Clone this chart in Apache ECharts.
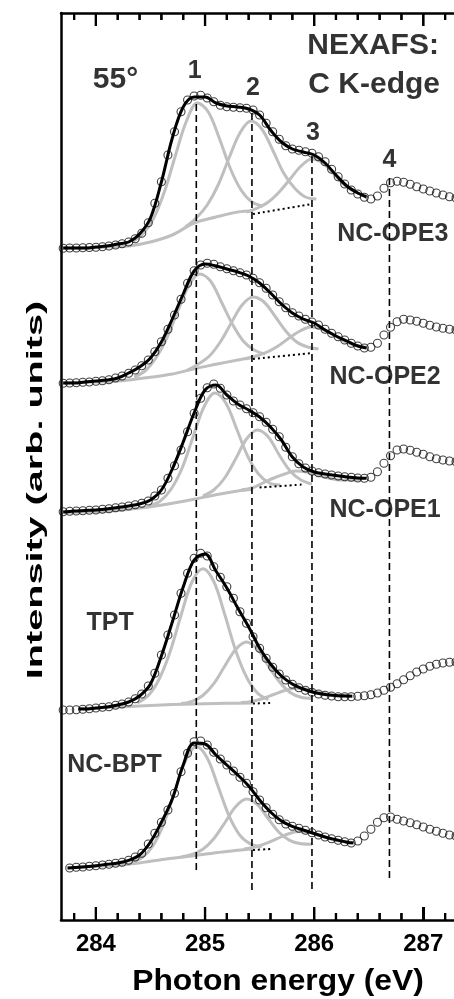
<!DOCTYPE html>
<html>
<head>
<meta charset="utf-8">
<title>NEXAFS C K-edge</title>
<script src="https://cdn.jsdelivr.net/npm/echarts@6/dist/echarts.min.js"></script>
<style>
  html, body { margin: 0; padding: 0; background: #fff; }
  #main { width: 454px; height: 999px; }
</style>
</head>
<body>
<div id="main"></div>
<script>
// photon energy of the measured points (eV)
var energy = [
  283.70, 283.76, 283.82, 283.88, 283.94, 284.00, 284.06, 284.12, 284.18, 284.24,
  284.30, 284.36, 284.42, 284.48, 284.54, 284.60, 284.66, 284.72, 284.78, 284.84,
  284.90, 284.96, 285.02, 285.08, 285.14, 285.20, 285.26, 285.32, 285.38, 285.44,
  285.50, 285.56, 285.62, 285.68, 285.74, 285.80, 285.86, 285.92, 285.98, 286.04,
  286.10, 286.16, 286.22, 286.28, 286.34, 286.40, 286.46, 286.52, 286.58, 286.64,
  286.70, 286.76, 286.82, 286.88, 286.94, 287.00, 287.06, 287.12, 287.18, 287.24, 287.30
];

// measured intensities (arb. units, spectra already offset)
var ope3Data = [
  671.7, 672, 672, 672.3, 672.5, 672.7, 673.3, 674, 675, 676.3,
  678, 681.3, 686.7, 697.3, 716.7, 738.3, 765, 788.3, 808.3, 820,
  824, 824.7, 822, 818.3, 814.7, 813.3, 812.7, 812.3, 811.7, 810,
  805, 796.7, 788.3, 780.7, 774.3, 771, 769.7, 768.3, 766.7, 763.3,
  758.3, 750.7, 743.3, 736, 730, 726, 722.7, 721, 724, 731.7,
  737.3, 738.7, 737.7, 735.7, 733.3, 731, 729, 727, 725, 723.3, 722
];
var ope2Data = [
  536.7, 537, 537.3, 537.7, 538, 538.7, 539.3, 540.3, 542, 544,
  546.7, 550, 554.3, 560, 568.3, 578.3, 590.7, 605, 620.7, 636.7,
  649.3, 655, 656.7, 655.7, 653.3, 651.3, 649.3, 647.3, 645, 641.7,
  637.3, 631.7, 625, 618.3, 612.3, 607.3, 604, 600.7, 598, 595,
  590.7, 586.7, 583.3, 580, 576.7, 574, 572, 572.7, 576.7, 585,
  592.7, 598.3, 600.7, 600, 598.7, 596.7, 594.7, 593, 591.7, 590.7, 590
];
var ope1Data = [
  408.3, 408.7, 409, 409.3, 409.7, 410, 410.7, 411.3, 412.3, 413,
  414, 415.3, 416.7, 419, 424, 430, 441.7, 454.3, 470, 488.3,
  506.7, 521.7, 532.3, 536, 531.7, 525, 519, 515, 511.3, 507.3,
  503.3, 497.7, 490.7, 483.3, 472.7, 463.3, 456.3, 452, 449, 447.3,
  446, 445, 444, 443.3, 442.7, 442, 441.7, 442.7, 448.3, 456.7,
  464.3, 470, 471, 469.7, 467.7, 465.7, 463.3, 461.3, 460, 459, 458.3
];
var tptData = [
  210, 210, 210.3, 210.7, 211.3, 212, 212.7, 213.3, 214.7, 216,
  218, 221.3, 226, 234, 246.7, 265, 285, 305, 326.7, 346.7,
  361.7, 366.7, 364, 353.3, 342.7, 333.3, 321.7, 308.3, 296.7, 283.3,
  271.7, 261.7, 252.7, 246, 240, 235.7, 232.3, 229.7, 227.7, 226,
  224.7, 224, 223.3, 223.3, 223.3, 223.7, 224.3, 225.3, 227, 229.7,
  232.7, 236.3, 240.3, 244.3, 248, 251, 253.7, 255.7, 257, 257.7, 258
];
var bptData = [
  null, 52, 52.7, 53, 53.7, 54.3, 55, 55.7, 56.7, 57.7,
  59.7, 63, 66.7, 76, 86.7, 97.7, 110, 126.7, 148.3, 166.7,
  178.3, 179, 175, 167.7, 161, 155, 149, 142.7, 136.7, 128.3,
  120, 112.3, 105.7, 100.3, 96, 93.7, 91.7, 89.7, 87.3, 85,
  83, 81.3, 79.7, 78.3, 77, 79, 84, 90.7, 97.7, 102.3,
  103, 100.7, 99, 97.3, 95.3, 93, 90.7, 88.7, 86.7, 85, 84
];

// fit envelopes [eV, intensity]
var ope3Fit = [[283.7,672],[283.8,672],[283.9,672],[284.0,673],[284.1,674],[284.2,676],[284.3,678],[284.4,686],[284.5,702],[284.6,738],[284.7,782],[284.8,813],[284.9,823],[285.0,823],[285.1,817],[285.2,814],[285.3,813],[285.4,811],[285.5,805],[285.6,790],[285.7,778],[285.8,771],[285.9,768],[286.0,765],[286.1,757],[286.2,745],[286.3,734],[286.4,727],[286.48,723]];
var ope2Fit = [[283.7,537],[283.8,537],[283.9,538],[284.0,539],[284.1,540],[284.2,542],[284.3,547],[284.4,553],[284.5,562],[284.6,578],[284.7,601],[284.8,626],[284.9,649],[285.0,656],[285.1,654],[285.2,651],[285.3,648],[285.4,644],[285.5,637],[285.6,627],[285.7,616],[285.8,607],[285.9,601],[286.0,597],[286.1,590],[286.2,584],[286.3,579],[286.4,574],[286.48,572]];
var ope1Fit = [[283.7,408],[283.8,409],[283.9,409.5],[284.0,410],[284.1,411],[284.2,412.5],[284.3,414],[284.4,416],[284.5,420],[284.6,430],[284.7,451],[284.8,478],[284.9,507],[285.0,530],[285.1,535],[285.2,525],[285.3,516],[285.4,510],[285.5,503],[285.6,493],[285.7,480],[285.8,463],[285.9,453],[286.0,448],[286.1,446],[286.2,444.5],[286.3,443],[286.4,442],[286.48,441.7]];
var tptFit = [[283.84,211],[283.9,211],[284.0,212],[284.1,213],[284.2,215],[284.3,218],[284.4,224],[284.5,236],[284.6,264],[284.7,298],[284.8,333],[284.9,360],[285.0,366],[285.1,349],[285.2,332],[285.3,312],[285.4,293],[285.5,272],[285.6,256],[285.7,244],[285.8,236],[285.9,231],[286.0,227.5],[286.1,225.5],[286.2,224.5],[286.3,224],[286.35,223.7]];
var bptFit = [[283.74,52],[283.8,52.5],[283.9,53.3],[284.0,54.3],[284.1,55.7],[284.2,57],[284.3,59.7],[284.4,65],[284.5,78],[284.6,97.7],[284.7,121],[284.8,155],[284.9,177],[285.0,176],[285.1,165],[285.2,155],[285.3,145],[285.4,134],[285.5,120],[285.6,108],[285.7,99],[285.8,93.7],[285.9,90],[286.0,86.5],[286.1,83],[286.2,80.3],[286.3,77.8],[286.36,77]];

// step-edge backgrounds and their dotted continuation
var ope3Base = [[283.7,672],[283.9,672],[284.1,673],[284.3,674],[284.5,678],[284.7,685],[284.9,697],[285.1,703],[285.3,708],[285.44,709]];
var ope2Base = [[283.7,537],[283.9,538],[284.1,538.3],[284.3,540],[284.5,542.7],[284.7,546],[284.9,551.3],[285.1,555.7],[285.3,560],[285.44,562.7]];
var ope1Base = [[283.7,407.3],[283.9,408],[284.1,408.7],[284.3,410.7],[284.5,413.3],[284.7,416.7],[284.9,420.7],[285.1,425.3],[285.3,429],[285.44,430.7]];
var tptBase = [[283.84,211.5],[284.0,212],[284.2,213],[284.4,214],[284.6,215],[284.8,215.7],[285.0,216.3],[285.2,216.7],[285.44,217]];
var bptBase = [[283.74,52],[283.9,53],[284.1,54.3],[284.3,55.7],[284.5,58.7],[284.7,61.7],[284.9,64.3],[285.1,67.3],[285.3,69.7],[285.44,71.3]];
var ope3Dots = [[285.44,706],[285.98,716]];
var ope2Dots = [[285.44,561],[285.98,567]];
var ope1Dots = [[285.5,432.5],[285.9,435.5]];
var tptDots = [[285.44,216.5],[285.62,217]];
var bptDots = [[285.44,70],[285.6,71]];

// fitted resonances (background included)
var ope3P1 = [[284.33,678],[284.43,686],[284.53,702],[284.63,729],[284.73,765],[284.83,799],[284.93,817],[285.03,808],[285.13,782],[285.23,752],[285.33,730],[285.43,718],[285.53,714]];
var ope3P2 = [[284.82,693],[284.92,702],[285.02,715],[285.12,735],[285.22,762],[285.32,787],[285.42,799],[285.52,791],[285.62,770],[285.72,747],[285.82,732],[285.92,723],[286.02,721]];
var ope3P3 = [[285.38,708],[285.48,712],[285.58,718],[285.68,728],[285.78,741],[285.88,754],[285.98,761],[286.08,757],[286.18,746],[286.28,735],[286.38,728],[286.48,724]];
var ope2P1 = [[284.35,543],[284.45,549],[284.55,562],[284.65,582],[284.75,609],[284.85,634],[284.95,646],[285.05,639],[285.15,618],[285.25,596],[285.35,579],[285.45,570],[285.55,566]];
var ope2P2 = [[284.84,550],[284.94,556],[285.04,564],[285.14,578],[285.24,597],[285.34,615],[285.44,623],[285.54,618],[285.64,604],[285.74,589],[285.84,578],[285.94,573],[286.04,571]];
var ope2P3 = [[285.37,561],[285.47,564],[285.57,568],[285.67,574],[285.77,582],[285.87,589],[285.97,593],[286.07,591],[286.17,586],[286.27,579],[286.37,575],[286.47,573]];
var ope1P1 = [[284.49,414],[284.59,419],[284.69,431],[284.79,452],[284.89,483],[284.99,513],[285.09,527],[285.19,517],[285.29,491],[285.39,464],[285.49,446],[285.59,437],[285.69,435]];
var ope1P2 = [[284.98,424],[285.08,430],[285.18,442],[285.28,461],[285.38,481],[285.48,490],[285.58,483],[285.68,465],[285.78,449],[285.88,440],[285.98,436]];
var ope1P3 = [[285.33,430],[285.43,432],[285.53,437],[285.63,442],[285.73,446],[285.83,449],[285.93,448],[286.03,445],[286.13,442],[286.23,440],[286.33,440],[286.43,440.5]];
var tptP1 = [[284.38,217],[284.48,224.5],[284.58,241],[284.68,268.3],[284.78,304.7],[284.88,338],[284.98,351.3],[285.08,338.5],[285.18,305.7],[285.28,269.8],[285.38,243],[285.48,227],[285.58,220.3]];
var tptP2 = [[284.78,216.4],[284.88,218.7],[284.98,224.5],[285.08,236.3],[285.18,253.7],[285.28,270.6],[285.38,278],[285.48,270.9],[285.58,254.3],[285.68,238.5],[285.78,227.5],[285.88,222.7],[285.98,221.5]];
var tptP3 = [[285.33,217.4],[285.43,218.6],[285.53,221.5],[285.63,225.5],[285.73,229.5],[285.83,231.7],[285.93,231],[286.03,228.4],[286.13,225.6],[286.23,223.8],[286.33,223.4]];
var bptP1 = [[284.32,57.2],[284.42,62.1],[284.52,73.7],[284.62,95.9],[284.72,128],[284.82,159.2],[284.92,173.5],[285.02,162],[285.12,133.5],[285.22,104.1],[285.32,84.6],[285.42,75.8],[285.52,73.2]];
var bptP2 = [[284.78,63.1],[284.88,65.6],[284.98,70.8],[285.08,81.3],[285.18,97],[285.28,113.3],[285.38,121],[285.48,115.3],[285.58,101.2],[285.68,87.5],[285.78,79.3],[285.88,76.2],[285.98,75.7]];
var bptP3 = [[285.36,70.9],[285.46,73],[285.56,76.6],[285.66,81.3],[285.76,86],[285.86,88.4],[285.96,87.4],[286.06,84.2],[286.16,80.8],[286.26,78.5],[286.36,77.6]];

// resonance positions 1-4 and the extent of their marker lines
var peakPos = [284.92, 285.43, 285.98, 286.69];
var peakTop = [816, 807, 764, 742];
var peakBottom = [47, 28, 28, 42];

// text inside the frame
var noteText = ['55°', '1', '2', '3', '4', 'NEXAFS:', 'C K-edge', 'NC-OPE3', 'NC-OPE2', 'NC-OPE1', 'TPT', 'NC-BPT'];
var noteE = [284.18, 284.905, 285.44, 285.99, 286.69, 286.54, 286.55, 286.72, 286.65, 286.65, 284.13, 284.17];
var noteI = [840, 849, 832, 787, 760, 874, 835, 686, 543, 410, 297, 155];
var noteSize = [30, 25, 25, 25, 25, 30, 30, 25, 25, 25, 25, 25];

// x-axis tick positions (eV)
var majorTicks = [284, 285, 286, 287];
var minorTicks = [283.8, 284.2, 284.4, 284.6, 284.8, 285.2, 285.4, 285.6, 285.8, 286.2, 286.4, 286.6, 286.8, 287.2];

var FONT = '"Liberation Sans", Arial, sans-serif';
var GRAY = '#bfbfbf';
var X_MIN = 283.68, X_MAX = 287.3, Y_MIN = 0, Y_MAX = 907;

var myChart = echarts.init(document.getElementById('main'));

function curve(data, color, width, type, z) {
  return {
    type: 'line', data: data, symbol: 'none', smooth: 0.35, silent: true, z: z,
    lineStyle: { color: color, width: width, type: type || 'solid' }
  };
}

// inward ticks on the bottom and top frame: thin bar symbols on a layer above the plot
function tickMarks(values, len, atTop) {
  return {
    type: 'scatter', silent: true, clip: false, zlevel: 1, z: 20,
    symbol: 'rect', symbolSize: [2.2, len], symbolOffset: [0, atTop ? len / 2 : -len / 2],
    itemStyle: { color: '#000', borderWidth: 0, opacity: 1 },
    data: values.map(function (v) { return [v, atTop ? Y_MAX : Y_MIN]; })
  };
}

var series = [
  tickMarks(majorTicks, 13, false),
  tickMarks(minorTicks, 7, false),
  tickMarks(majorTicks, 13, true),
  tickMarks(minorTicks, 7, true)
];

var spectra = [
  { data: ope3Data, fit: ope3Fit, base: ope3Base, dots: ope3Dots, peaks: [ope3P1, ope3P2, ope3P3] },
  { data: ope2Data, fit: ope2Fit, base: ope2Base, dots: ope2Dots, peaks: [ope2P1, ope2P2, ope2P3] },
  { data: ope1Data, fit: ope1Fit, base: ope1Base, dots: ope1Dots, peaks: [ope1P1, ope1P2, ope1P3] },
  { data: tptData, fit: tptFit, base: tptBase, dots: tptDots, peaks: [tptP1, tptP2, tptP3] },
  { data: bptData, fit: bptFit, base: bptBase, dots: bptDots, peaks: [bptP1, bptP2, bptP3] }
];

spectra.forEach(function (s) {
  series.push(curve(s.base, GRAY, 3, 'solid', 2));
  s.peaks.forEach(function (p) { series.push(curve(p, GRAY, 3, 'solid', 2)); });
  series.push(curve(s.dots, '#000', 2, [2, 3], 3));
  var pts = [];
  for (var i = 0; i < energy.length; i++) {
    if (s.data[i] != null) pts.push([energy[i], s.data[i]]);
  }
  series.push({
    type: 'scatter', data: pts, symbol: 'circle', symbolSize: 8, silent: true, z: 4,
    itemStyle: { color: 'rgba(255,255,255,0)', borderColor: '#111', borderWidth: 1.1 }
  });
  series.push(curve(s.fit, '#000', 3, 'solid', 5));
});

// dashed markers at the resonance energies
peakPos.forEach(function (e, i) {
  series.push({
    type: 'line', data: [[e, peakTop[i]], [e, peakBottom[i]]], symbol: 'none', silent: true, z: 3,
    lineStyle: { color: '#000', width: 1.6, type: [7, 4] }
  });
});

// labels
var notes = noteText.map(function (t, i) {
  return { name: t, value: [noteE[i], noteI[i]], label: { fontSize: noteSize[i] } };
});
series.push({
  type: 'scatter', data: notes, symbolSize: 1, silent: true, z: 6,
  itemStyle: { color: 'rgba(0,0,0,0)' },
  label: {
    show: true, position: 'inside', formatter: '{b}',
    color: '#000', fontWeight: 'bold', fontFamily: FONT
  }
});

var titles = [
  {
    type: 'text', x: 36, y: 490, rotation: Math.PI / 2, scaleX: 1.8,
    style: {
      text: 'Intensity (arb. units)', fill: '#000', fontSize: 22, fontWeight: 'bold',
      fontFamily: FONT, align: 'center', verticalAlign: 'middle'
    }
  },
  {
    type: 'text', x: 278, y: 982, scaleX: 1.06,
    style: {
      text: 'Photon energy (eV)', fill: '#000', fontSize: 30, fontWeight: 'bold',
      fontFamily: FONT, align: 'center', verticalAlign: 'middle'
    }
  }
];

var option = {
  animation: false,
  grid: { left: 61, right: -2, top: 13, bottom: 79, outerBoundsMode: 'none' },
  xAxis: [
    {
      type: 'value', position: 'bottom', min: X_MIN, max: X_MAX,
      minInterval: 1, maxInterval: 1, splitNumber: 4,
      axisLine: { show: true, onZero: false, lineStyle: { color: '#000', width: 2.5 } },
      axisTick: { show: true, inside: true, length: 13, lineStyle: { color: '#000', width: 2 } },
      axisLabel: {
        show: true, showMinLabel: false, showMaxLabel: false, margin: 12,
        color: '#000', fontSize: 24, fontWeight: 'bold', fontFamily: FONT
      },
      splitLine: { show: false }
    },
    {
      type: 'value', position: 'top', min: X_MIN, max: X_MAX,
      axisLine: { show: true, onZero: false, lineStyle: { color: '#000', width: 2.5 } },
      axisTick: { show: false }, axisLabel: { show: false }, splitLine: { show: false }
    }
  ],
  yAxis: {
    type: 'value', min: Y_MIN, max: Y_MAX,
    axisLine: { show: true, onZero: false, lineStyle: { color: '#000', width: 2.5 } },
    axisTick: { show: false }, axisLabel: { show: false }, splitLine: { show: false }
  },
  graphic: titles,
  series: series
};

myChart.setOption(option);

// second route for the frame ticks: place them through the grid's own scale
var tickShapes = [];
function addTickShapes(values, len) {
  values.forEach(function (v) {
    var pb = myChart.convertToPixel({ gridIndex: 0 }, [v, Y_MIN]);
    var pt = myChart.convertToPixel({ gridIndex: 0 }, [v, Y_MAX]);
    if (!pb || !pt) return;
    tickShapes.push({
      type: 'rect', zlevel: 1, z: 30, silent: true,
      shape: { x: pb[0] - 1.1, y: pb[1] - len, width: 2.2, height: len },
      style: { fill: '#000' }
    });
    tickShapes.push({
      type: 'rect', zlevel: 1, z: 30, silent: true,
      shape: { x: pt[0] - 1.1, y: pt[1], width: 2.2, height: len },
      style: { fill: '#000' }
    });
  });
}
try {
  addTickShapes(majorTicks, 13);
  addTickShapes(minorTicks, 7);
  myChart.setOption({ graphic: titles.concat(tickShapes) });
} catch (e) {}
</script>
</body>
</html>
